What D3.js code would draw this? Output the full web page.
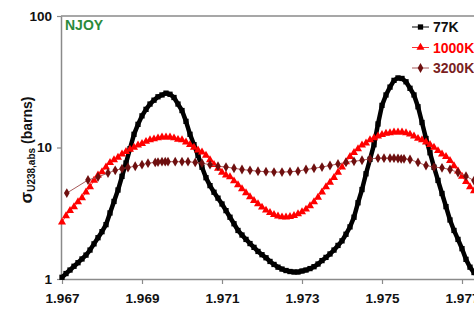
<!DOCTYPE html>
<html>
<head>
<meta charset="utf-8">
<script src="https://cdn.jsdelivr.net/npm/d3@7"></script>
<style>
body { margin: 0; background: #fff; }
svg { display: block; font-family: "Liberation Sans", Arial, sans-serif; }
</style>
</head>
<body>
<svg width="474" height="311"></svg>
<script>
// energies (grid of the 77K and 1000K curves)
var energy = [
 1.9670,1.9671,1.9672,1.9673,1.9674,1.9675,1.9676,1.9677,1.9678,1.9679,
 1.9680,1.9681,1.9682,1.9683,1.9684,1.9685,1.9686,1.9687,1.9688,1.9689,
 1.9690,1.9691,1.9692,1.9693,1.9694,1.9695,1.9696,1.9697,1.9698,1.9699,
 1.9700,1.9701,1.9702,1.9703,1.9704,1.9705,1.9706,1.9707,1.9708,1.9709,
 1.9710,1.9711,1.9712,1.9713,1.9714,1.9715,1.9716,1.9717,1.9718,1.9719,
 1.9720,1.9721,1.9722,1.9723,1.9724,1.9725,1.9726,1.9727,1.9728,1.9729,
 1.9730,1.9731,1.9732,1.9733,1.9734,1.9735,1.9736,1.9737,1.9738,1.9739,
 1.9740,1.9741,1.9742,1.9743,1.9744,1.9745,1.9746,1.9747,1.9748,1.9749,
 1.9750,1.9751,1.9752,1.9753,1.9754,1.9755,1.9756,1.9757,1.9758,1.9759,
 1.9760,1.9761,1.9762,1.9763,1.9764,1.9765,1.9766,1.9767,1.9768,1.9769,
 1.9770,1.9771,1.9772,1.9773,1.9774
];

var sigma77 = [
 1.03,1.10,1.17,1.25,1.33,1.42,1.52,1.66,1.85,2.06,
 2.29,2.59,3.18,3.89,4.75,6.03,7.62,9.79,12.6,15.0,
 17.4,19.5,21.4,22.9,24.3,25.1,25.9,25.4,24.0,21.4,
 19.1,15.8,12.6,10.5,8.71,7.08,5.89,5.13,4.57,4.12,
 3.72,3.31,2.95,2.63,2.34,2.16,2.00,1.86,1.74,1.62,
 1.53,1.45,1.36,1.29,1.23,1.19,1.16,1.14,1.13,1.13,
 1.15,1.17,1.20,1.24,1.30,1.38,1.46,1.55,1.66,1.80,
 1.95,2.19,2.49,2.95,3.80,4.79,6.31,8.13,10.5,15.1,
 20.9,25.1,28.8,32.4,33.8,33.5,31.6,28.2,25.1,20.4,
 15.5,11.7,9.12,7.08,5.62,4.47,3.55,2.81,2.34,2.00,
 1.70,1.41,1.23,1.12,1.05
];

var sigma1000 = [
 2.71,3.02,3.31,3.53,3.85,4.13,4.57,5.01,5.62,6.17,
 6.52,7.08,7.67,8.04,8.41,8.91,9.29,9.66,10.0,10.4,
 10.7,11.1,11.4,11.6,11.8,12.0,12.0,12.0,11.8,11.5,
 11.4,11.0,10.5,10.0,9.55,9.23,8.71,8.04,7.41,6.92,
 6.46,6.17,5.97,5.56,5.19,4.84,4.52,4.21,3.94,3.72,
 3.51,3.33,3.20,3.09,3.01,2.96,2.95,2.98,3.03,3.13,
 3.24,3.39,3.59,3.85,4.17,4.57,5.01,5.43,5.89,6.46,
 7.08,7.76,8.51,9.12,9.77,10.4,10.8,11.4,11.8,12.2,
 12.5,12.8,12.9,13.1,13.1,13.1,12.9,12.6,12.2,11.7,
 11.4,11.0,10.5,10.0,9.44,8.91,8.51,7.94,7.24,6.61,
 6.03,5.50,5.01,4.68,4.40
];

// 3200K has its own (coarser) grid
var energy3200 = [
 1.96712,1.96765,1.96790,1.96815,1.96833,1.96850,1.96865,1.96883,1.96900,1.96915,
 1.96933,1.96940,1.96950,1.96958,1.96965,1.96983,1.97000,1.97015,1.97033,1.97050,
 1.97070,1.97090,1.97110,1.97130,1.97150,1.97170,1.97190,1.97210,1.97230,1.97250,
 1.97270,1.97290,1.97310,1.97330,1.97350,1.97370,1.97390,1.97410,1.97430,1.97450,
 1.97470,1.97490,1.97505,1.97520,1.97530,1.97540,1.97548,1.97555,1.97570,1.97590,
 1.97610,1.97630,1.97650,1.97670,1.97690,1.97710,1.97730
];
var sigma3200 = [
 4.5,5.66,5.97,6.4,6.7,6.9,7.05,7.2,7.4,7.6,
 7.7,7.75,7.8,7.8,7.8,7.8,7.8,7.8,7.7,7.6,
 7.4,7.2,7.1,6.95,6.8,6.7,6.6,6.55,6.5,6.5,
 6.55,6.6,6.8,6.95,7.1,7.3,7.5,7.7,7.85,8.0,
 8.2,8.3,8.3,8.3,8.3,8.25,8.2,8.2,8.1,7.7,
 7.3,7.1,7.0,6.8,6.45,6.05,5.6
];

var xTicks = [1.967, 1.969, 1.971, 1.973, 1.975, 1.977];
var yTicks = [1, 10, 100];
var seriesNames = ['77K', '1000K', '3200K'];

var svg = d3.select('svg');

var scaleX = d3.scaleLinear().domain([1.967, 1.979]).range([62, 542]);
var scaleY = d3.scaleLog().domain([1, 100]).range([279, 16]);

var axisColor = '#8a8a8a';

// top frame line
svg.append('line')
    .attr('x1', 61).attr('x2', 542)
    .attr('y1', scaleY(100)).attr('y2', scaleY(100))
    .attr('stroke', axisColor).attr('stroke-width', 1.5);

var xAxis = svg.append('g')
    .attr('transform', 'translate(0,' + scaleY(1) + ')')
    .call(d3.axisBottom(scaleX).tickValues(xTicks).tickFormat(d3.format('.3f'))
        .tickSize(5).tickSizeOuter(0).tickPadding(9));

var yAxis = svg.append('g')
    .attr('transform', 'translate(61,0)')
    .call(d3.axisLeft(scaleY).tickValues(yTicks).tickFormat(d3.format('d'))
        .tickSize(4).tickSizeOuter(0).tickPadding(5));

[xAxis, yAxis].forEach(function(g){
    g.select('.domain').attr('stroke', axisColor).attr('stroke-width', 1.5);
    g.selectAll('.tick line').attr('stroke', axisColor).attr('stroke-width', 1.2);
    g.selectAll('.tick text')
        .attr('fill', '#111')
        .attr('font-size', 13.5)
        .attr('font-weight', 'bold')
        .attr('font-family', '"Liberation Sans", Arial, sans-serif');
});

// y title
var yTitle = svg.append('text')
    .attr('transform', 'translate(32,150)rotate(-90)')
    .attr('text-anchor', 'middle')
    .attr('fill', '#111')
    .attr('font-weight', 'bold');
yTitle.append('tspan').attr('font-size', 17).text('σ');
yTitle.append('tspan').attr('font-size', 10).attr('dy', 3).text('U238,abs');
yTitle.append('tspan').attr('font-size', 14).attr('dy', -3).text(' (barns)');

svg.append('text')
    .text('NJOY')
    .attr('x', 65).attr('y', 30)
    .attr('fill', '#2b8a3b')
    .attr('font-size', 14)
    .attr('font-weight', 'bold');

var line = d3.line()
    .x(function(d){ return scaleX(d[0]); })
    .y(function(d){ return scaleY(d[1]); });

var series = [
    { name: seriesNames[0], pts: d3.zip(energy, sigma77), color: '#000', lineColor: '#000', lw: 4.5,
      sym: d3.symbolSquare, size: 28, text: '#111', legendLw: 1 },
    { name: seriesNames[1], pts: d3.zip(energy, sigma1000), color: '#ff0000', lineColor: '#ff3030', lw: 1,
      sym: d3.symbolTriangle, size: 28, text: '#ff0000', legendLw: 1 },
    { name: seriesNames[2], pts: d3.zip(energy3200, sigma3200), color: '#6e0f0f', lineColor: '#a85a5a', lw: 1,
      sym: d3.symbolDiamond, size: 28, text: '#7a1f1f', legendLw: 1 }
];

series.forEach(function(s){
    svg.append('path')
        .attr('d', line(s.pts))
        .attr('fill', 'none')
        .attr('stroke', s.lineColor)
        .attr('stroke-width', s.lw)
        .attr('stroke-linejoin', 'round');

    svg.selectAll(null)
        .data(s.pts)
        .enter()
        .append('path')
        .attr('d', d3.symbol().type(s.sym).size(s.size))
        .attr('transform', function(d){
            return 'translate(' + scaleX(d[0]) + ',' + scaleY(d[1]) + ')';
        })
        .attr('fill', s.color);
});

// legend
series.forEach(function(s, i){
    var y = 27 + i * 20.5;
    svg.append('line')
        .attr('x1', 412).attr('x2', 429)
        .attr('y1', y).attr('y2', y)
        .attr('stroke', s.lineColor).attr('stroke-width', s.legendLw);
    svg.append('path')
        .attr('d', d3.symbol().type(s.sym).size(s.size))
        .attr('transform', 'translate(420.5,' + y + ')')
        .attr('fill', s.color);
    svg.append('text')
        .text(s.name)
        .attr('x', 433).attr('y', y + 5)
        .attr('fill', s.text)
        .attr('font-size', 14)
        .attr('font-weight', 'bold');
});
</script>
</body>
</html>
